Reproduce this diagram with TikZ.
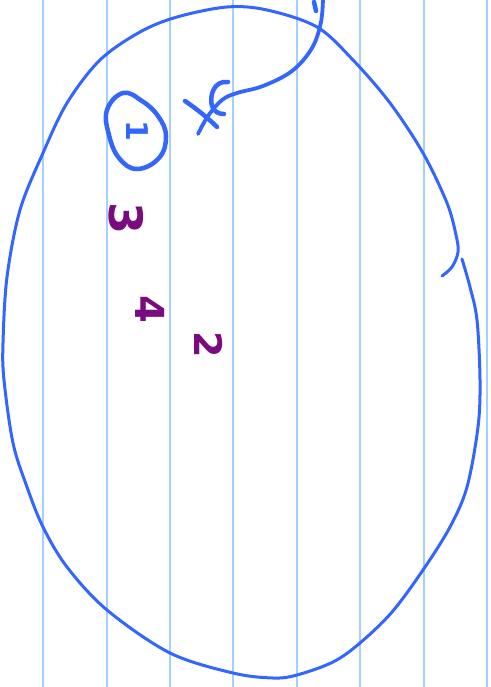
\documentclass[tikz,border=0pt]{standalone}
\usepackage{fontspec}
\setmainfont{DejaVu Sans}
\definecolor{inkblue}{HTML}{3366FF}
\definecolor{inkpurple}{HTML}{7A0A80}
\definecolor{rulecol}{HTML}{A6CEFF}
\begin{document}
\begin{tikzpicture}[x=1pt,y=-1pt,
  ruleline/.style={draw=rulecol,line width=1.6pt},
  ink/.style={draw=inkblue,line width=3pt,line cap=round,line join=round},
  thickink/.style={draw=inkblue,line width=4.5pt,line cap=round,line join=round},
  digit/.style={text=inkpurple,inner sep=0pt,rotate=-90,font=\fontsize{#1}{#1}\selectfont\bfseries}]
\useasboundingbox (0,0) rectangle (490,687);
\fill[white] (0,0) rectangle (490,687);
% ruled lines
\foreach \x in {43,107,170,233,297,360,424,487}
  \draw[ruleline] (\x,0) -- (\x,687);
% big oval, upper stroke ending in a hook
\draw[ink] plot[smooth,tension=0.55] coordinates {
  (462,259) (470,287) (477,320) (480,380) (478,427) (467,487) (450,527)
  (423,570) (392,612) (360,643) (333,662) (297,675) (273,678) (233,673) (170,653)
  (107,610) (67,567) (43,527) (27,487) (13,443) (4,380) (3,343) (7,277)
  (20,210) (43,153) (67,103) (100,60) (140,32) (177,17) (227,7) (267,10)
  (317,27) (353,60) (390,103) (423,153) (447,203) (456,235) (458,252)
  (452,267) (442,276)};
% circled one
\draw[thickink] plot[smooth cycle,tension=0.7] coordinates {
  (123,93) (142,101) (158,116) (166,136) (159,158) (137,169) (119,158)
  (109,135) (107,110)};
\node[text=inkblue,inner sep=0pt,rotate=-90,font=\fontsize{30}{30}\selectfont\bfseries] (one) at (137,131) {1};
% arrow curve from the top to the cross
\draw[ink,line width=3.8pt] plot[smooth,tension=0.6] coordinates {
  (323,-3) (321,22) (312,48) (292,71) (263,86) (237,93) (222,100)
  (208,116) (198,134)};
\draw[ink,line width=4.5pt] (314,2) -- (316,11);
% cross and hook
\draw[thickink] (185,101) .. controls (198,110) and (208,118) .. (217,127);
\draw[thickink] (228,82) .. controls (214,80) and (209,96) .. (212,106)
  .. controls (214,112) and (219,114) .. (224,114);
% purple digits
\node[digit=46] (three) at (126,219) {3};
\node[digit=40] (four) at (150,309) {4};
\node[digit=38] (two) at (209,345) {2};
\end{tikzpicture}
\end{document}
